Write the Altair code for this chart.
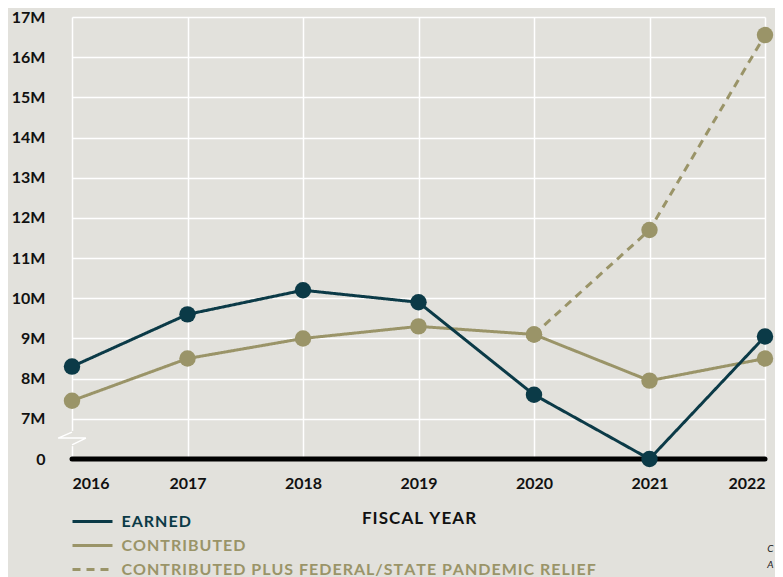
import altair as alt
import pandas as pd

# ---------------- data ----------------
years = [2016, 2017, 2018, 2019, 2020, 2021, 2022]
earned = [8.3, 9.6, 10.2, 9.9, 7.6, 0.0, 9.05]
contributed = [7.45, 8.5, 9.0, 9.3, 9.1, 7.95, 8.5]
relief_years = [2020, 2021, 2022]
relief = [9.1, 11.7, 16.55]

y_ticks = [6, 7, 8, 9, 10, 11, 12, 13, 14, 15, 16, 17]   # 6 is where the broken axis shows "0"
series_names = ["EARNED", "CONTRIBUTED", "CONTRIBUTED PLUS FEDERAL/STATE PANDEMIC RELIEF"]

# axis-break marker (decoration, in data units)
break_x = [2016, 2015.88, 2016.12, 2016]
break_y = [6.67, 6.52, 6.52, 6.35]

note_lines = ["C", "A"]

# ---------------- styling ----------------
FONT = "Lato"
BG = "#e2e1dc"
TEAL = "#0b3a47"
OLIVE = "#9a9468"
HS = "\u200a"


def spaced(s):
    return HS.join(s)


labels = [spaced(s) for s in series_names]

rows = []
for yr, v in zip(years, earned):
    rows.append({"series": labels[0], "year": yr, "value": v, "ord": 2})
for yr, v in zip(years, contributed):
    rows.append({"series": labels[1], "year": yr, "value": v, "ord": 0})
for yr, v in zip(relief_years, relief):
    rows.append({"series": labels[2], "year": yr, "value": v, "ord": 1})
df = pd.DataFrame(rows)

base_df = pd.DataFrame({"x": [years[0]], "x2": [years[-1]], "y": [0.0]})
break_df = pd.DataFrame({"x": break_x, "y": break_y, "o": list(range(len(break_x)))})
cover_df = pd.DataFrame({"x": [years[0]], "y": [min(break_y) - 0.03], "y2": [max(break_y) + 0.03]})
note_df = pd.DataFrame({"x": [2022.02, 2022.02], "y": [3.76, 3.36], "t": note_lines})

xscale = alt.Scale(domain=[years[0], years[-1]], nice=False, zero=False)
yscale = alt.Scale(domain=[6, 17], nice=False, zero=False)

color_scale = alt.Scale(domain=labels, range=[TEAL, OLIVE, OLIVE])
dash_scale = alt.Scale(domain=labels, range=[[1, 0], [1, 0], [8, 6]])

x_enc = alt.X(
    "year:Q",
    scale=xscale,
    axis=alt.Axis(
        values=years, format="d", grid=True, gridColor="white", gridWidth=1.5,
        domain=False, ticks=False, labelFont=FONT, labelFontSize=16,
        labelFontWeight="bold", labelColor="#111111", labelPadding=16,
        title=spaced("FISCAL YEAR"), titleFont=FONT, titleFontSize=17,
        titleFontWeight="bold", titleColor="#111111", titlePadding=19,
    ),
)
y_enc = alt.Y(
    "yplot:Q",
    scale=yscale,
    axis=alt.Axis(
        values=y_ticks, labelExpr="datum.value == 6 ? '0' : datum.value + 'M'",
        grid=True, gridColor="white", gridWidth=1.5, domain=False, ticks=False,
        labelFont=FONT, labelFontSize=16, labelFontWeight="bold",
        labelColor="#111111", labelPadding=27, title=None,
    ),
)

legend = alt.Legend(
    title=None, orient="none", legendX=12.5, legendY=496.5,
    symbolType="M-5,0H5", symbolSize=64, symbolStrokeWidth=3,
    labelFont=FONT, labelFontSize=16, labelFontWeight="bold",
    labelOffset=21, rowPadding=8, padding=0, labelLimit=700,
    labelColor={"expr": "datum.index == 0 ? '%s' : '%s'" % (TEAL, OLIVE)},
)

base = alt.Chart(df).transform_calculate(yplot="datum.value < 7 ? 6 : datum.value")

olive_lines = base.transform_filter(f"datum.series != '{labels[0]}'").mark_line(strokeWidth=3).encode(
    x=x_enc, y=y_enc,
    color=alt.Color("series:N", scale=color_scale, legend=legend),
    strokeDash=alt.StrokeDash("series:N", scale=dash_scale, legend=legend),
)
teal_line = base.transform_filter(f"datum.series == '{labels[0]}'").mark_line(strokeWidth=3).encode(
    x="year:Q", y="yplot:Q",
    color=alt.Color("series:N", scale=color_scale, legend=legend),
    strokeDash=alt.StrokeDash("series:N", scale=dash_scale, legend=legend),
)

cover = alt.Chart(cover_df).mark_rule(color=BG, strokeWidth=4).encode(
    x="x:Q", y="y:Q", y2="y2:Q"
)
brk = alt.Chart(break_df).mark_line(color="white", strokeWidth=1.5).encode(
    x="x:Q", y="y:Q", order="o:Q"
)
baseline = alt.Chart(base_df).transform_calculate(yplot="6").mark_rule(
    color="black", strokeWidth=5, strokeCap="round"
).encode(x="x:Q", x2="x2:Q", y="yplot:Q")

points = base.mark_circle(size=270, opacity=1).encode(
    x="year:Q", y="yplot:Q",
    color=alt.Color("series:N", scale=color_scale, legend=None),
    order="ord:Q",
)

notes = alt.Chart(note_df).mark_text(
    align="left", baseline="middle", font=FONT, fontSize=10, fontStyle="italic", color="#222222"
).encode(x="x:Q", y="y:Q", text="t:N")

chart = alt.layer(cover, brk, baseline, olive_lines, teal_line, points, notes).properties(
    width=693, height=442,
    autosize=alt.AutoSizeParams(type="none"),
    padding={"left": 64, "top": 9, "right": 10, "bottom": 118},
    background=BG,
).configure_view(stroke=None)

chart.save("out.html", embed_options={"renderer": "svg", "actions": False})
